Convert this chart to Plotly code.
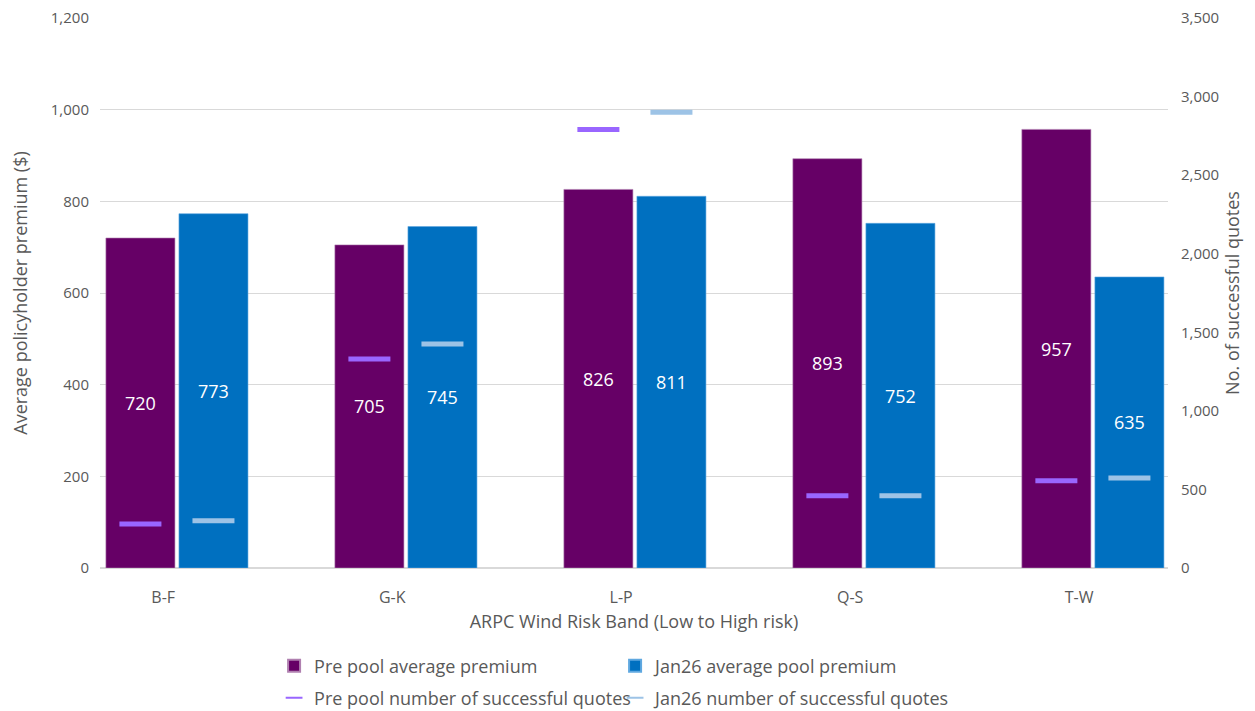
import numpy as np
import plotly.graph_objects as go

categories = ["B-F", "G-K", "L-P", "Q-S", "T-W"]
pre_pool_premium = [720, 705, 826, 893, 957]
jan26_premium = [773, 745, 811, 752, 635]
pre_pool_quotes = [280, 1330, 2790, 460, 555]
jan26_quotes = [300, 1425, 2900, 460, 572]

FONT = "Open Sans, Noto Sans, sans-serif"
GREY = "#595959"
x = np.arange(len(categories))
label_shift = -0.06
GAP = 0.362

fig = go.Figure()
fig.add_trace(go.Bar(
    x=x, y=pre_pool_premium, name="Pre pool average premium",
    marker=dict(color="#660066", line=dict(width=0.6, color="#b080b0")),
    text=[str(v) for v in pre_pool_premium], textposition="inside",
    insidetextanchor="middle", textfont=dict(color="white", size=18, family=FONT),
    legend="legend", offsetgroup="a",
))
fig.add_trace(go.Bar(
    x=x, y=jan26_premium, name="Jan26 average pool premium",
    marker=dict(color="#0070c0", line=dict(width=0.6, color="#5fa8e0")),
    text=[str(v) for v in jan26_premium], textposition="inside",
    insidetextanchor="middle", textfont=dict(color="white", size=18, family=FONT),
    legend="legend", offsetgroup="b",
))
fig.add_trace(go.Scatter(
    x=x, y=pre_pool_quotes, name="Pre pool number of successful quotes",
    mode="markers", yaxis="y2", legend="legend2", offsetgroup="a",
    marker=dict(symbol="line-ew", size=30, color="#9966ff",
                line=dict(width=5, color="#9966ff")),
))
fig.add_trace(go.Scatter(
    x=x, y=jan26_quotes, name="Jan26 number of successful quotes",
    mode="markers", yaxis="y2", legend="legend2", offsetgroup="b",
    marker=dict(symbol="line-ew", size=30, color="#9dc3e6",
                line=dict(width=5, color="#9dc3e6")),
))

fig.update_layout(
    width=1255, height=711,
    margin=dict(l=100, r=87, t=18, b=143),
    paper_bgcolor="white", plot_bgcolor="white",
    font=dict(family=FONT, color=GREY, size=15),
    barmode="group", bargap=GAP, bargroupgap=0.055,
    scattermode="group", scattergap=GAP,
    showlegend=True,
    xaxis=dict(
        range=[-0.336, 4.328], tickmode="array",
        tickvals=x + label_shift, ticktext=categories,
        showgrid=False, zeroline=False, showline=False, ticks="",
        tickfont=dict(size=16, color=GREY), ticklabelstandoff=18,
        automargin=False,
        title=dict(text="ARPC Wind Risk Band (Low to High risk)",
                   font=dict(size=18, color=GREY), standoff=8),
    ),
    yaxis=dict(
        range=[0, 1200], dtick=200, tickformat=",",
        showgrid=True, gridcolor="#d9d9d9", gridwidth=1,
        zeroline=True, zerolinecolor="#d9d9d9", zerolinewidth=1.5,
        tickfont=dict(size=15, color=GREY), ticklabelstandoff=10,
        automargin=False,
        title=dict(text="Average policyholder premium ($)",
                   font=dict(size=18, color=GREY), standoff=18),
    ),
    yaxis2=dict(
        range=[0, 3500], dtick=500, tickformat=",",
        overlaying="y", side="right", showgrid=False, zeroline=False,
        tickfont=dict(size=15, color=GREY), ticklabelstandoff=12,
        automargin=False,
        title=dict(text="No. of successful quotes",
                   font=dict(size=18, color=GREY), standoff=8),
    ),
    legend=dict(orientation="h", x=0.163, xanchor="left", y=1 - 666 / 711,
                yref="container", yanchor="middle", entrywidth=296,
                font=dict(size=18, color=GREY),
                itemsizing="constant", bgcolor="rgba(0,0,0,0)"),
    legend2=dict(orientation="h", x=0.163, xanchor="left", y=1 - 698 / 711,
                 yref="container", yanchor="middle", entrywidth=296,
                 font=dict(size=18, color=GREY), itemsizing="constant",
                 bgcolor="rgba(0,0,0,0)"),
)

fig.write_html("out.html")
